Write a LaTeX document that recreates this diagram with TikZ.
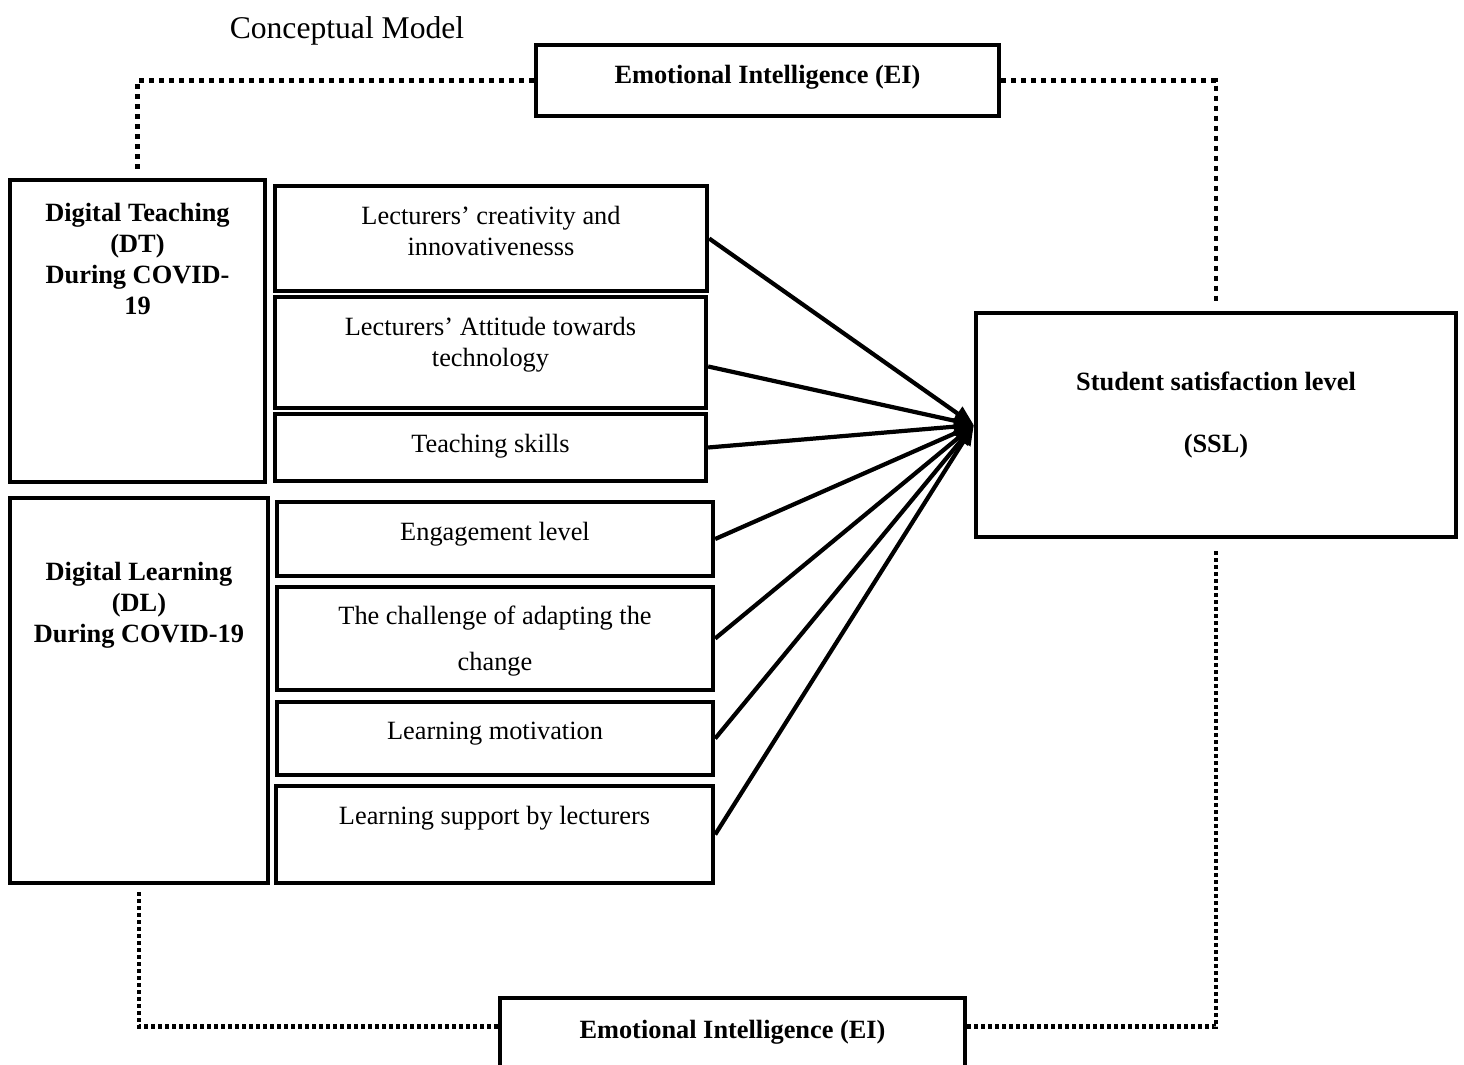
\documentclass[tikz,border=0pt]{standalone}
\usepackage{fontspec}
\setmainfont{Liberation Serif}
\usetikzlibrary{arrows.meta,calc,positioning}

\begin{document}
\begin{tikzpicture}[x=0.02cm,y=-0.02cm,
	box/.style={draw,line width=2.5pt,rectangle,inner sep=0pt},
	boxtext/.style={inner sep=0pt,align=center,font=\fontsize{15}{17.6}\selectfont},
	boldtext/.style={inner sep=0pt,align=center,font=\fontsize{15}{17.6}\selectfont\bfseries},
	link/.style={line width=2.4pt,-{Triangle[length=0.4cm,width=0.32cm]}},
	dotline/.style={line width=2.6pt,dash pattern=on 0.1cm off 0.1cm},
	dotfine/.style={line width=2.6pt,dash pattern=on 0.08cm off 0.06cm}]
	\useasboundingbox (0,0) rectangle (1464,1065);

	\node (title) at (347,31) [inner sep=0pt,font=\fontsize{18}{21}\selectfont] {Conceptual Model};

	\node (eitop) at (767.5,80.5) [box,minimum width=9.26cm,minimum height=1.42cm] {};
	\node (dt) at (137.5,331) [box,minimum width=5.10cm,minimum height=6.04cm] {};
	\node (crea) at (491,238.5) [box,minimum width=8.64cm,minimum height=2.10cm] {};
	\node (atti) at (490.5,352.5) [box,minimum width=8.62cm,minimum height=2.22cm] {};
	\node (teach) at (490.5,447.5) [box,minimum width=8.62cm,minimum height=1.34cm] {};
	\node (dl) at (139,690.5) [box,minimum width=5.16cm,minimum height=7.70cm] {};
	\node (enga) at (495,539) [box,minimum width=8.72cm,minimum height=1.48cm] {};
	\node (chal) at (495,638.5) [box,minimum width=8.72cm,minimum height=2.06cm] {};
	\node (moti) at (495,738.5) [box,minimum width=8.72cm,minimum height=1.46cm] {};
	\node (supp) at (494.5,834.5) [box,minimum width=8.74cm,minimum height=1.94cm] {};
	\node (ssl) at (1216,425) [box,minimum width=9.60cm,minimum height=4.48cm] {};
	\node (eibot) at (732.5,1036.5) [box,minimum width=9.30cm,minimum height=1.54cm] {};

	\node (eitopT) [boldtext,below=0.44cm of eitop.north] {Emotional Intelligence (EI)};
	\node (dtT) [boldtext,below=0.50cm of dt.north] {Digital Teaching\\(DT)\\During COVID-\\19};
	\node (creaT) [boxtext,below=0.44cm of crea.north] {Lecturers’ creativity and\\innovativenesss};
	\node (attiT) [boxtext,below=0.44cm of atti.north] {Lecturers’ Attitude towards\\technology};
	\node (teachT) [boxtext,below=0.44cm of teach.north] {Teaching skills};
	\node (dlT) [boldtext,below=1.33cm of dl.north] {Digital Learning\\(DL)\\During COVID-19};
	\node (engaT) [boxtext,below=0.44cm of enga.north] {Engagement level};
	\node (chalT) [boxtext,below=0.42cm of chal.north] {The challenge of adapting the\\[8.5pt]change};
	\node (motiT) [boxtext,below=0.44cm of moti.north] {Learning motivation};
	\node (suppT) [boxtext,below=0.44cm of supp.north] {Learning support by lecturers};
	\node (sslT) [boldtext,below=1.22cm of ssl.north] {Student satisfaction level\\[17.6pt](SSL)};
	\node (eibotT) [boldtext,below=0.48cm of eibot.north] {Emotional Intelligence (EI)};

	\draw[link] (crea.east) -- (ssl.west);
	\draw[link] ([yshift=-0.28cm]atti.east) -- (ssl.west);
	\draw[link] (teach.east) -- (ssl.west);
	\draw[link] (enga.east) -- (ssl.west);
	\draw[link] (chal.east) -- (ssl.west);
	\draw[link] (moti.east) -- (ssl.west);
	\draw[link] (supp.east) -- (ssl.west);

	\draw[dotline,shorten >=0.16cm] (eitop.west) -| (dt.north);
	\draw[dotline,shorten >=0.16cm] (eitop.east) -| (ssl.north);
	\draw[dotfine,shorten <=0.14cm] (dl.south) |- ($(eibot.north west)!0.38!(eibot.south west)$);
	\draw[dotfine,shorten >=0.22cm] ($(eibot.north east)!0.38!(eibot.south east)$) -| (ssl.south);
\end{tikzpicture}
\end{document}
